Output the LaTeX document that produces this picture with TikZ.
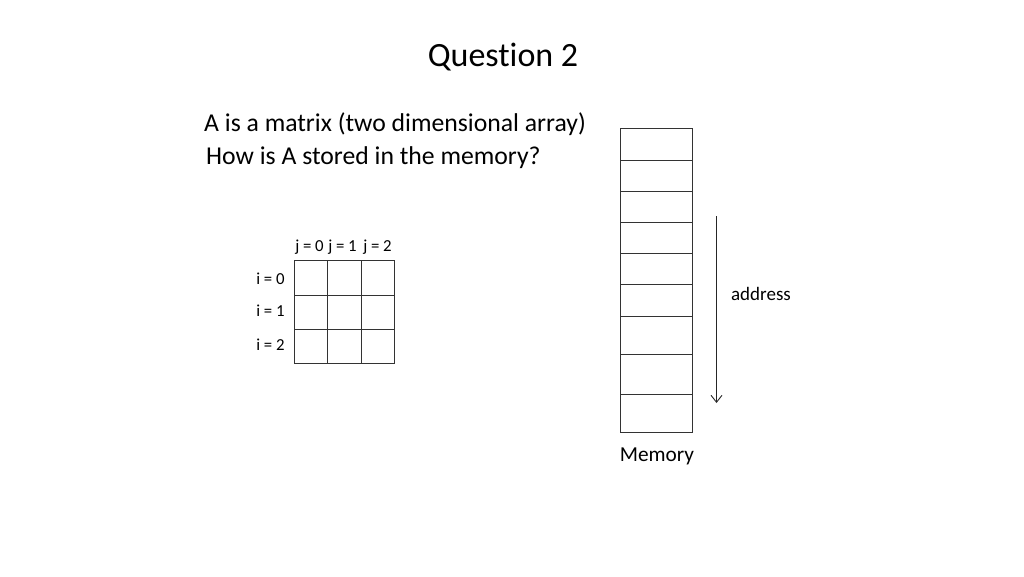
\documentclass[tikz,border=0pt]{standalone}
\usepackage{fontspec}
\setmainfont[Ligatures={NoCommon}]{Carlito}
\usetikzlibrary{arrows.meta}
\begin{document}
\begin{tikzpicture}[x=1pt,y=-1pt,
  cell/.style={draw=black!80,line width=0.9pt},
  lbl/.style={inner sep=0pt,font=\fontsize{16.8}{19}\selectfont},
  txt/.style={inner sep=0pt,anchor=west,font=\fontsize{25.7}{30}\selectfont}]
\useasboundingbox (0,0) rectangle (1024,576);
\node[inner sep=0pt,font=\fontsize{34}{40}\selectfont] (title) at (503,57) {Question 2};
\node[txt] (l1) at (204,124) {A is a matrix (two dimensional array)};
\node[txt] (l2) at (206,158) {How is A stored in the memory?};
% matrix
\foreach \c [count=\k] in {294.3,327.7,361}{
  \foreach \r [count=\m] in {260.7,295,329}{
    \pgfmathsetmacro{\cx}{\c+33.4}
    \ifnum\m=1 \def\ry{295}\fi
    \ifnum\m=2 \def\ry{329}\fi
    \ifnum\m=3 \def\ry{363.3}\fi
    \draw[cell] (\c,\r) rectangle (\cx,\ry);
  }
}
\node[lbl] (j0) at (309.5,247) {j = 0};
\node[lbl] (j1) at (342.5,247) {j = 1};
\node[lbl] (j2) at (377.5,247) {j = 2};
\node[lbl] (i0) at (270.5,279) {i = 0};
\node[lbl] (i1) at (270.5,311) {i = 1};
\node[lbl] (i2) at (270.5,345) {i = 2};
% memory
\foreach \a/\b in {128/160,160/191,191/222,222/253,253/284,284/316,316/354,354/394,394/432}{
  \draw[cell] (620,\a) rectangle (692,\b);
}
\node[inner sep=0pt,font=\fontsize{21.3}{25}\selectfont] (mem) at (657,456.5) {Memory};
\coordinate (as) at (716.5,216);
\coordinate (ae) at (716.5,403);
\draw[line width=0.9pt,draw=black!85,-{Straight Barb[length=7pt,width=11pt]}] (as) -- (ae);
\node[inner sep=0pt,font=\fontsize{19}{22}\selectfont] (addr) at (761,294) {address};
\end{tikzpicture}
\end{document}
